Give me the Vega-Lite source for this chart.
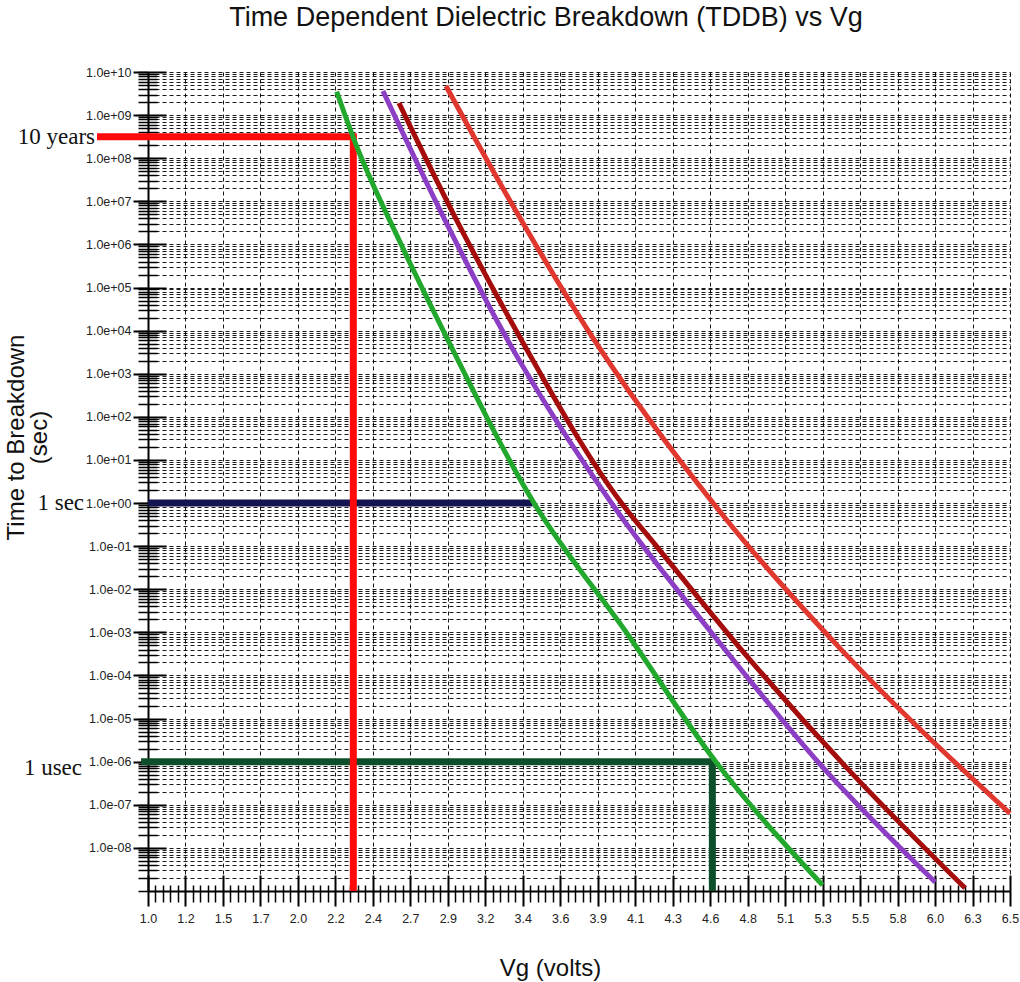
{
  "$schema": "https://vega.github.io/schema/vega-lite/v6.json",
  "autosize": {"type": "none"},
  "padding": {"left": 148, "top": 72, "right": 10, "bottom": 91},
  "width": 862,
  "height": 819,
  "background": "white",
  "title": {"text": "Time Dependent Dielectric Breakdown (TDDB) vs Vg", "font": "Liberation Sans", "fontSize": 27, "fontWeight": "normal", "color": "#111", "anchor": "middle", "offset": 34, "dx": -33},
  "config": {"view": {"stroke": null}},
  "datasets": {
    "curves": [
      {"series": "Curve 1", "V": 2.204, "t": 3.49e9},
      {"series": "Curve 1", "V": 2.311, "t": 2.94e8},
      {"series": "Curve 1", "V": 2.614, "t": 1.02e6},
      {"series": "Curve 1", "V": 2.882, "t": 1.03e4},
      {"series": "Curve 1", "V": 3.463, "t": 1.0},
      {"series": "Curve 1", "V": 4.05, "t": 1.02e-3},
      {"series": "Curve 1", "V": 4.624, "t": 9.8e-7},
      {"series": "Curve 1", "V": 5.304, "t": 1.37e-9},
      {"series": "Curve 2", "V": 2.499, "t": 3.62e9},
      {"series": "Curve 2", "V": 2.863, "t": 6.28e6},
      {"series": "Curve 2", "V": 3.259, "t": 1.03e4},
      {"series": "Curve 2", "V": 3.957, "t": 1.0},
      {"series": "Curve 2", "V": 4.592, "t": 1.02e-3},
      {"series": "Curve 2", "V": 5.31, "t": 7.1e-7},
      {"series": "Curve 2", "V": 6.022, "t": 1.61e-9},
      {"series": "Curve 3", "V": 2.6015, "t": 1.91e9},
      {"series": "Curve 3", "V": 2.9524, "t": 4.81e6},
      {"series": "Curve 3", "V": 3.3416, "t": 1.12e4},
      {"series": "Curve 3", "V": 4.0212, "t": 1.0},
      {"series": "Curve 3", "V": 4.2541, "t": 0.0904},
      {"series": "Curve 3", "V": 4.7773, "t": 4.33e-4},
      {"series": "Curve 3", "V": 5.46, "t": 7.1e-7},
      {"series": "Curve 3", "V": 6.2129, "t": 1.17e-9},
      {"series": "Curve 4", "V": 2.9014, "t": 4.73e9},
      {"series": "Curve 4", "V": 3.344, "t": 6.28e6},
      {"series": "Curve 4", "V": 3.7992, "t": 1.13e4},
      {"series": "Curve 4", "V": 4.6924, "t": 0.404},
      {"series": "Curve 4", "V": 5.4153, "t": 4.26e-4},
      {"series": "Curve 4", "V": 6.5, "t": 6.3e-8}
    ],
    "hrefs": [
      {"ref": "10 years", "V1": 0.697, "V2": 2.31, "t": 3.156e8},
      {"ref": "1 sec", "V1": 1.022, "V2": 3.432, "t": 1},
      {"ref": "1 usec", "V1": 0.978, "V2": 4.601, "t": 1e-6}
    ],
    "vrefs": [
      {"ref": "10 years", "V": 2.31, "t1": 1e-9, "t2": 3.156e8},
      {"ref": "1 usec", "V": 4.601, "t1": 1e-9, "t2": 1e-6}
    ],
    "labels": [
      {"label": "10 years", "V": 0.662, "t": 3.156e8},
      {"label": "1 sec", "V": 0.592, "t": 1},
      {"label": "1 usec", "V": 0.579, "t": 7.1e-7}
    ]
  },
  "resolve": {"scale": {"color": "independent"}, "axis": {"x": "independent", "y": "independent"}},
  "layer": [
    {
      "data": {"name": "hrefs"},
      "mark": {"type": "rule", "strokeWidth": 7, "strokeCap": "square"},
      "encoding": {
        "x": {"field": "V1", "type": "quantitative", "scale": {"domain": [1, 6.5], "nice": false, "zero": false},
          "axis": {"orient": "bottom", "values": [1, 1.2391304, 1.4782609, 1.7173913, 1.9565217, 2.1956522, 2.4347826, 2.673913, 2.9130435, 3.1521739, 3.3913043, 3.6304348, 3.8695652, 4.1086957, 4.3478261, 4.5869565, 4.826087, 5.0652174, 5.3043478, 5.5434783, 5.7826087, 6.0217391, 6.2608696, 6.5],
            "tickSize": -16, "tickWidth": 2, "tickColor": "#000", "labels": false, "domain": false, "grid": false, "title": null}},
        "x2": {"field": "V2"},
        "y": {"field": "t", "type": "quantitative", "scale": {"type": "log", "domain": [1e-9, 1e10], "nice": false},
          "axis": {"orient": "left", "values": [1e-8, 1e-7, 1e-6, 1e-5, 1e-4, 1e-3, 1e-2, 1e-1, 1, 10, 100, 1000, 1e4, 1e5, 1e6, 1e7, 1e8, 1e9, 1e10],
            "tickSize": -18, "tickWidth": 2, "tickColor": "#000", "labels": false, "domain": false, "grid": false, "title": null}},
        "color": {"field": "ref", "type": "nominal", "scale": {"domain": ["10 years", "1 sec", "1 usec"], "range": ["#ff0a0a", "#141450", "#0d4f2a"]}, "legend": null}
      }
    },
    {
      "data": {"name": "vrefs"},
      "mark": {"type": "rule", "strokeWidth": 7},
      "encoding": {
        "x": {"field": "V", "type": "quantitative", "scale": {"domain": [1, 6.5], "nice": false, "zero": false},
          "axis": {"orient": "bottom", "values": [1.0478261, 1.0956522, 1.1434783, 1.1913043, 1.2869565, 1.3347826, 1.3826087, 1.4304348, 1.526087, 1.573913, 1.6217391, 1.6695652, 1.7652174, 1.8130435, 1.8608696, 1.9086957, 2.0043478, 2.0521739, 2.1, 2.1478261, 2.2434783, 2.2913043, 2.3391304, 2.3869565, 2.4826087, 2.5304348, 2.5782609, 2.626087, 2.7217391, 2.7695652, 2.8173913, 2.8652174, 2.9608696, 3.0086957, 3.0565217, 3.1043478, 3.2, 3.2478261, 3.2956522, 3.3434783, 3.4391304, 3.4869565, 3.5347826, 3.5826087, 3.6782609, 3.726087, 3.773913, 3.8217391, 3.9173913, 3.9652174, 4.0130435, 4.0608696, 4.1565217, 4.2043478, 4.2521739, 4.3, 4.3956522, 4.4434783, 4.4913043, 4.5391304, 4.6347826, 4.6826087, 4.7304348, 4.7782609, 4.873913, 4.9217391, 4.9695652, 5.0173913, 5.1130435, 5.1608696, 5.2086957, 5.2565217, 5.3521739, 5.4, 5.4478261, 5.4956522, 5.5913043, 5.6391304, 5.6869565, 5.7347826, 5.8304348, 5.8782609, 5.926087, 5.973913, 6.0695652, 6.1173913, 6.1652174, 6.2130435, 6.3086957, 6.3565217, 6.4043478, 6.4521739],
            "tickSize": 11, "tickWidth": 1.5, "tickColor": "#000", "labels": false, "domain": false, "grid": false, "title": null}},
        "y": {"field": "t1", "type": "quantitative", "scale": {"type": "log", "domain": [1e-9, 1e10], "nice": false},
          "axis": {"orient": "left", "values": [1e-9, 2e-9, 3e-9, 4e-9, 5e-9, 6e-9, 7e-9, 8e-9, 9e-9, 1e-8, 2e-8, 3e-8, 4e-8, 5e-8, 6e-8, 7e-8, 8e-8, 9e-8, 1e-7, 2e-7, 3e-7, 4e-7, 5e-7, 6e-7, 7e-7, 8e-7, 9e-7, 1e-6, 2e-6, 3e-6, 4e-6, 5e-6, 6e-6, 7e-6, 8e-6, 9e-6, 1e-5, 2e-5, 3e-5, 4e-5, 5e-5, 6e-5, 7e-5, 8e-5, 9e-5, 1e-4, 2e-4, 3e-4, 4e-4, 5e-4, 6e-4, 7e-4, 8e-4, 9e-4, 1e-3, 2e-3, 3e-3, 4e-3, 5e-3, 6e-3, 7e-3, 8e-3, 9e-3, 0.01, 0.02, 0.03, 0.04, 0.05, 0.06, 0.07, 0.08, 0.09, 0.1, 0.2, 0.3, 0.4, 0.5, 0.6, 0.7, 0.8, 0.9, 1, 2, 3, 4, 5, 6, 7, 8, 9, 10, 20, 30, 40, 50, 60, 70, 80, 90, 100, 200, 300, 400, 500, 600, 700, 800, 900, 1000, 2000, 3000, 4000, 5000, 6000, 7000, 8000, 9000, 1e4, 2e4, 3e4, 4e4, 5e4, 6e4, 7e4, 8e4, 9e4, 1e5, 2e5, 3e5, 4e5, 5e5, 6e5, 7e5, 8e5, 9e5, 1e6, 2e6, 3e6, 4e6, 5e6, 6e6, 7e6, 8e6, 9e6, 1e7, 2e7, 3e7, 4e7, 5e7, 6e7, 7e7, 8e7, 9e7, 1e8, 2e8, 3e8, 4e8, 5e8, 6e8, 7e8, 8e8, 9e8, 1e9, 2e9, 3e9, 4e9, 5e9, 6e9, 7e9, 8e9, 9e9, 1e10],
            "tickSize": 10, "tickWidth": 1.5, "tickColor": "#000", "labels": false, "domain": false,
            "grid": true, "gridDash": [4, 3], "gridColor": "#000", "gridOpacity": 0.9, "gridWidth": 1, "title": null}},
        "y2": {"field": "t2"},
        "color": {"field": "ref", "type": "nominal", "scale": {"domain": ["10 years", "1 sec", "1 usec"], "range": ["#ff0a0a", "#141450", "#0d4f2a"]}, "legend": null}
      }
    },
    {
      "data": {"name": "labels"},
      "mark": {"type": "text", "font": "Liberation Serif", "fontSize": 23, "align": "right", "baseline": "middle", "color": "#111"},
      "encoding": {
        "x": {"field": "V", "type": "quantitative", "scale": {"domain": [1, 6.5], "nice": false, "zero": false},
          "axis": {"orient": "bottom", "values": [1.0478261, 1.0956522, 1.1434783, 1.1913043, 1.2869565, 1.3347826, 1.3826087, 1.4304348, 1.526087, 1.573913, 1.6217391, 1.6695652, 1.7652174, 1.8130435, 1.8608696, 1.9086957, 2.0043478, 2.0521739, 2.1, 2.1478261, 2.2434783, 2.2913043, 2.3391304, 2.3869565, 2.4826087, 2.5304348, 2.5782609, 2.626087, 2.7217391, 2.7695652, 2.8173913, 2.8652174, 2.9608696, 3.0086957, 3.0565217, 3.1043478, 3.2, 3.2478261, 3.2956522, 3.3434783, 3.4391304, 3.4869565, 3.5347826, 3.5826087, 3.6782609, 3.726087, 3.773913, 3.8217391, 3.9173913, 3.9652174, 4.0130435, 4.0608696, 4.1565217, 4.2043478, 4.2521739, 4.3, 4.3956522, 4.4434783, 4.4913043, 4.5391304, 4.6347826, 4.6826087, 4.7304348, 4.7782609, 4.873913, 4.9217391, 4.9695652, 5.0173913, 5.1130435, 5.1608696, 5.2086957, 5.2565217, 5.3521739, 5.4, 5.4478261, 5.4956522, 5.5913043, 5.6391304, 5.6869565, 5.7347826, 5.8304348, 5.8782609, 5.926087, 5.973913, 6.0695652, 6.1173913, 6.1652174, 6.2130435, 6.3086957, 6.3565217, 6.4043478, 6.4521739],
            "tickSize": -6, "tickWidth": 1.5, "tickColor": "#000", "labels": false, "domain": false, "grid": false, "title": null}},
        "y": {"field": "t", "type": "quantitative", "scale": {"type": "log", "domain": [1e-9, 1e10], "nice": false},
          "axis": {"orient": "left", "values": [2e-9, 3e-9, 4e-9, 5e-9, 6e-9, 7e-9, 8e-9, 9e-9, 2e-8, 3e-8, 4e-8, 5e-8, 6e-8, 7e-8, 8e-8, 9e-8, 2e-7, 3e-7, 4e-7, 5e-7, 6e-7, 7e-7, 8e-7, 9e-7, 2e-6, 3e-6, 4e-6, 5e-6, 6e-6, 7e-6, 8e-6, 9e-6, 2e-5, 3e-5, 4e-5, 5e-5, 6e-5, 7e-5, 8e-5, 9e-5, 2e-4, 3e-4, 4e-4, 5e-4, 6e-4, 7e-4, 8e-4, 9e-4, 2e-3, 3e-3, 4e-3, 5e-3, 6e-3, 7e-3, 8e-3, 9e-3, 0.02, 0.03, 0.04, 0.05, 0.06, 0.07, 0.08, 0.09, 0.2, 0.3, 0.4, 0.5, 0.6, 0.7, 0.8, 0.9, 2, 3, 4, 5, 6, 7, 8, 9, 20, 30, 40, 50, 60, 70, 80, 90, 200, 300, 400, 500, 600, 700, 800, 900, 2000, 3000, 4000, 5000, 6000, 7000, 8000, 9000, 2e4, 3e4, 4e4, 5e4, 6e4, 7e4, 8e4, 9e4, 2e5, 3e5, 4e5, 5e5, 6e5, 7e5, 8e5, 9e5, 2e6, 3e6, 4e6, 5e6, 6e6, 7e6, 8e6, 9e6, 2e7, 3e7, 4e7, 5e7, 6e7, 7e7, 8e7, 9e7, 2e8, 3e8, 4e8, 5e8, 6e8, 7e8, 8e8, 9e8, 2e9, 3e9, 4e9, 5e9, 6e9, 7e9, 8e9, 9e9],
            "tickSize": -9, "tickWidth": 1.5, "tickColor": "#000", "labels": false, "domain": false, "grid": false, "title": null}},
        "text": {"field": "label"}
      }
    },
    {
      "data": {"name": "curves"},
      "mark": {"type": "line", "strokeWidth": 5, "interpolate": "monotone"},
      "encoding": {
        "x": {"field": "V", "type": "quantitative", "scale": {"domain": [1, 6.5], "nice": false, "zero": false},
          "axis": {"orient": "bottom", "values": [1, 1.2391304, 1.4782609, 1.7173913, 1.9565217, 2.1956522, 2.4347826, 2.673913, 2.9130435, 3.1521739, 3.3913043, 3.6304348, 3.8695652, 4.1086957, 4.3478261, 4.5869565, 4.826087, 5.0652174, 5.3043478, 5.5434783, 5.7826087, 6.0217391, 6.2608696, 6.5],
            "format": ".1f", "tickSize": 15, "tickWidth": 2, "tickColor": "#000", "domain": true, "domainWidth": 2, "domainColor": "#000",
            "grid": true, "gridDash": [4, 3], "gridColor": "#000", "gridOpacity": 0.9, "gridWidth": 1,
            "labelFont": "Liberation Sans", "labelFontSize": 12.5, "labelColor": "#222", "labelPadding": 6, "labelFlush": false, "labelOverlap": false, "labelBound": false,
            "title": "Vg (volts)", "titleFont": "Liberation Sans", "titleFontSize": 24, "titleFontWeight": "normal", "titleColor": "#111", "titleX": 402, "titleY": 77, "titleAlign": "center", "titleBaseline": "middle"}},
        "y": {"field": "t", "type": "quantitative", "scale": {"type": "log", "domain": [1e-9, 1e10], "nice": false},
          "axis": {"orient": "left", "values": [1e-8, 1e-7, 1e-6, 1e-5, 1e-4, 1e-3, 1e-2, 1e-1, 1, 10, 100, 1000, 1e4, 1e5, 1e6, 1e7, 1e8, 1e9, 1e10],
            "labelExpr": "'1.0e' + (datum.value < 0.5 ? '-' : '+') + (abs(round(log(datum.value)/LN10)) < 10 ? '0' : '') + abs(round(log(datum.value)/LN10))",
            "tickSize": 15, "tickWidth": 2, "tickColor": "#000", "domain": true, "domainWidth": 2, "domainColor": "#000", "grid": false,
            "labelFont": "Liberation Sans", "labelFontSize": 12.5, "labelColor": "#222", "labelPadding": 2, "labelFlush": false, "labelOverlap": false, "labelBound": false,
            "title": ["Time to Breakdown", "(sec)"], "titleFont": "Liberation Sans", "titleFontSize": 24, "titleFontWeight": "normal", "titleColor": "#111", "titleAngle": -90, "titleX": -132, "titleY": 365, "titleAlign": "center", "titleBaseline": "middle", "titleLineHeight": 23}},
        "color": {"field": "series", "type": "nominal", "scale": {"domain": ["Curve 1", "Curve 2", "Curve 3", "Curve 4"], "range": ["#23a82e", "#8c3fc4", "#a50d0d", "#e0382f"]}, "legend": null}
      }
    }
  ]
}
